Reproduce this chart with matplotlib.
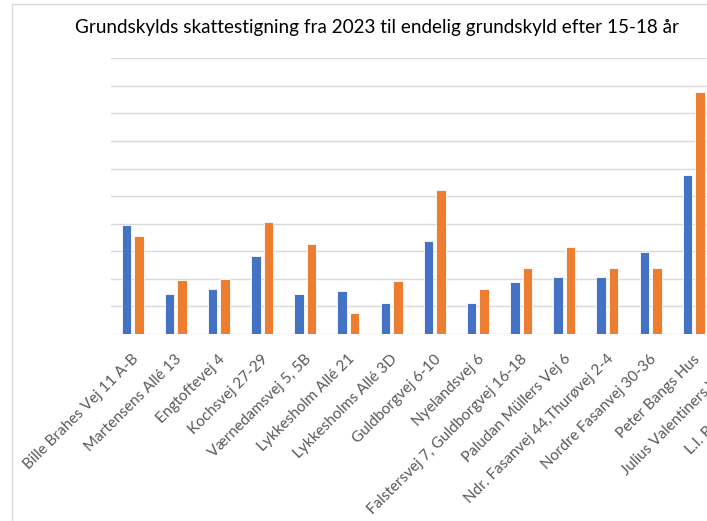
import matplotlib
matplotlib.use("Agg")
import matplotlib.pyplot as plt
from matplotlib.patches import Rectangle
import matplotlib.transforms as mtransforms
import numpy as np

categories = [
    "Bille Brahes Vej 11 A-B", "Martensens Allé 13", "Engtoftevej 4", "Kochsvej 27-29",
    "Værnedamsvej 5, 5B", "Lykkesholm Allé 21", "Lykkesholms Allé 3D", "Guldborgvej 6-10",
    "Nyelandsvej 6", "Falstersvej 7, Guldborgvej 16-18", "Paludan Müllers Vej 6",
    "Ndr. Fasanvej 44,Thurøvej 2-4", "Nordre Fasanvej 30-36", "Peter Bangs Hus",
    "Julius Valentiners Vej 10", "L.I. Brandes Allé 2-8",
]
series_2023 = [3.95, 1.46, 1.62, 2.83, 1.46, 1.56, 1.11, 3.36, 1.14, 1.90, 2.07, 2.08, 2.99, 5.77, 3.0, 2.0]
series_final = [3.57, 1.96, 2.00, 4.05, 3.25, 0.77, 1.93, 5.22, 1.64, 2.38, 3.16, 2.38, 2.38, 8.79, 4.0, 2.5]

W, H = 707, 521
fig = plt.figure(figsize=(W / 100, H / 100), dpi=100)
fig.patch.set_facecolor("white")

# chart frame (cropped)
fig.patches.append(Rectangle((12 / W, -0.1), 1.2, (H - 4) / H + 0.1, transform=fig.transFigure,
                             fill=False, edgecolor="#D9D9D9", linewidth=1.0))

left, right_px, top_px, bottom_px = 111, 111 + 16 * 43.17, 58.3, 334
ax = fig.add_axes([left / W, (H - bottom_px) / H, (right_px - left) / W, (bottom_px - top_px) / H])
ax.set_facecolor("none")

x = np.arange(len(categories))
bw = 0.22
ax.bar(x - 0.144, series_2023, width=bw, color="#4472C4", edgecolor="white", linewidth=0.6, zorder=3)
ax.bar(x + 0.144, series_final, width=bw, color="#ED7D31", edgecolor="white", linewidth=0.6, zorder=3)

ax.set_xlim(-0.5, len(categories) - 0.5)
ax.set_ylim(0, 10)
ax.set_yticks(np.arange(0, 11, 1))
ax.yaxis.grid(True, color="#D9D9D9", linewidth=1.0, zorder=0)
ax.tick_params(axis="y", left=False, labelleft=False)
ax.tick_params(axis="x", length=0, pad=0)
for s in ax.spines.values():
    s.set_visible(False)
ax.set_xticks(x)
ax.set_xticklabels(categories, rotation=45, ha="right", rotation_mode="anchor",
                   fontsize=11, color="#595959", family="Lato")
offset = mtransforms.ScaledTranslation(-1 / 100, -18 / 100, fig.dpi_scale_trans)
for lab in ax.get_xticklabels():
    lab.set_transform(lab.get_transform() + offset)

fig.text(377 / W, (H - 27) / H, "Grundskylds skattestigning fra 2023 til endelig grundskyld efter 15-18 år",
         ha="center", va="center", fontsize=13.6, color="#000000", family="Lato")

fig.savefig("out.png", dpi=100)
